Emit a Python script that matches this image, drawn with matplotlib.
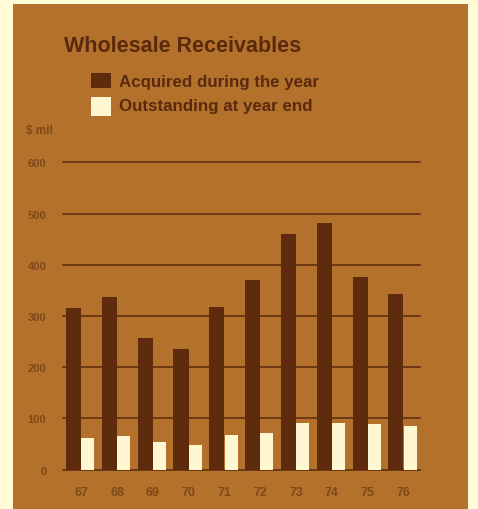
import matplotlib.pyplot as plt
from matplotlib.patches import Rectangle
import numpy as np

plt.rcParams['font.family'] = ['Liberation Sans', 'DejaVu Sans']

# Wholesale receivables, $ millions
years = ['67', '68', '69', '70', '71', '72', '73', '74', '75', '76']
acquired = [315, 337, 258, 236, 317, 370, 461, 481, 376, 343]
outstanding = [61, 65, 54, 49, 68, 72, 92, 92, 89, 85]
y_ticks = [0, 100, 200, 300, 400, 500, 600]

cream = '#fffbd6'
panel = '#b3712b'
dark = '#5e2b0d'
bar_light = '#fff6d2'
grid_c = '#5a2a0e'
label_c = '#7e4818'

W, H = 478, 510
fig = plt.figure(figsize=(W / 100, H / 100), dpi=100)
fig.patch.set_facecolor(cream)

# brown card behind the chart
fig.patches.append(Rectangle((13 / W, 0), (468 - 13) / W, (H - 5) / H,
                             transform=fig.transFigure, facecolor=panel,
                             edgecolor='none', zorder=-5))

ax = fig.add_axes([63 / W, 39.3 / H, (420 - 63) / W, (470.7 - 163.3) / H])
ax.set_zorder(2)
ax.set_facecolor('none')
ax.set_xlim(-0.51, 9.46)
ax.set_ylim(0, 600)

for v in y_ticks:
    ax.axhline(v, color=grid_c, linewidth=1.1, zorder=1, clip_on=False)

x = np.arange(len(years))
ax.bar(x - 0.215, acquired, width=0.42, color=dark, zorder=2)
ax.bar(x + 0.185, outstanding, width=0.36, color=bar_light, zorder=2)

for s in ax.spines.values():
    s.set_visible(False)
ax.tick_params(length=0)
ax.set_xticks(x)
ax.set_xticklabels(years, fontsize=9, fontweight='bold', color=label_c)
ax.tick_params(axis='x', pad=12)
ax.set_yticks(y_ticks)
ax.set_yticklabels([str(v) for v in y_ticks], fontsize=8, fontweight='bold',
                   color=label_c)
ax.tick_params(axis='y', pad=12)

fig.text(53 / W, 1 - 131 / H, '$ mil', ha='right', va='center', fontsize=8.5,
         fontweight='bold', color=label_c)

fig.text(64 / W, 1 - 46 / H, 'Wholesale Receivables', ha='left', va='center',
         fontsize=15.5, fontweight='bold', color=grid_c)

# legend swatches and labels
fig.patches.append(Rectangle((91 / W, 1 - 89 / H), 20 / W, 15 / H,
                             transform=fig.transFigure, facecolor=dark,
                             edgecolor='none'))
fig.patches.append(Rectangle((91 / W, 1 - 117 / H), 20 / W, 19 / H,
                             transform=fig.transFigure, facecolor=bar_light,
                             edgecolor='none'))
fig.text(119 / W, 1 - 82 / H, 'Acquired during the year', ha='left',
         va='center', fontsize=12.2, fontweight='bold', color=grid_c)
fig.text(119 / W, 1 - 106 / H, 'Outstanding at year end', ha='left',
         va='center', fontsize=12.2, fontweight='bold', color=grid_c)

fig.savefig('out.png', dpi=100, facecolor=fig.get_facecolor())
